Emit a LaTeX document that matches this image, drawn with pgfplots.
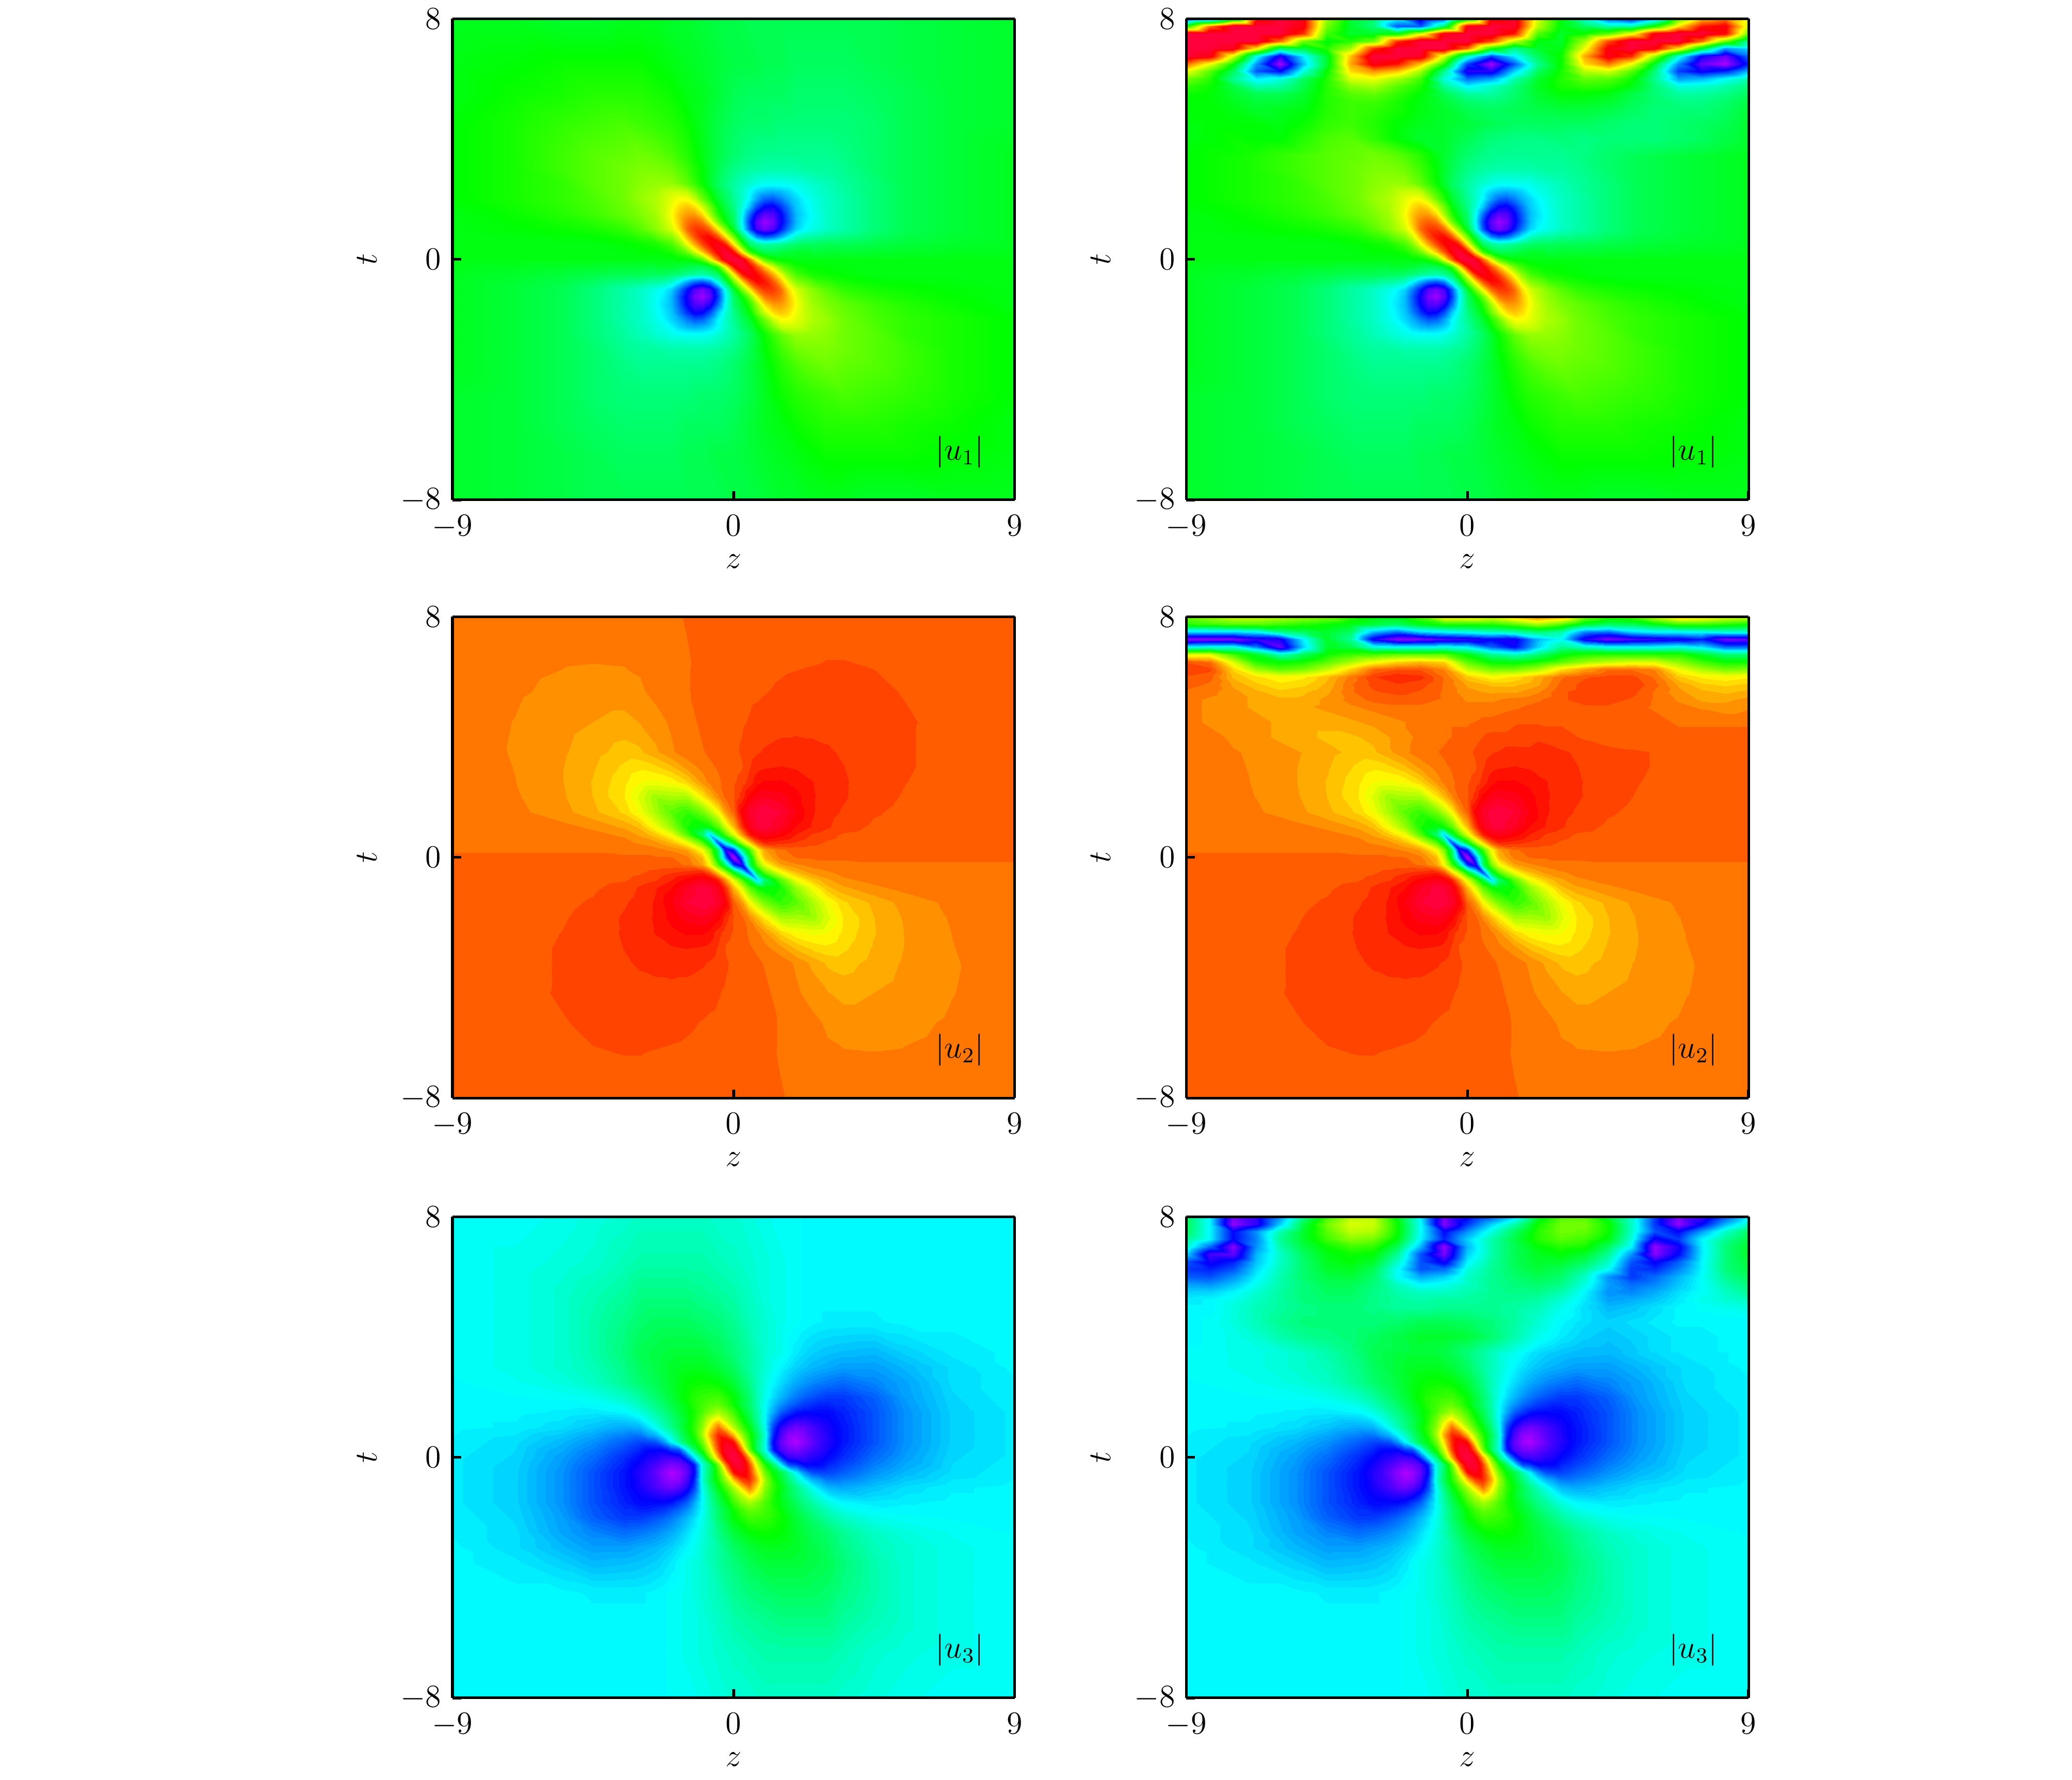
\documentclass[border=0pt,12pt]{standalone}
\usepackage{pgfplots}
\pgfplotsset{compat=1.18}
\pgfplotsset{colormap={hueB}{rgb255(0)=(170,0,255) rgb255(40)=(0,0,255) rgb255(100)=(0,255,255) rgb255(160)=(0,255,0) rgb255(220)=(255,255,0) rgb255(280)=(255,0,0) rgb255(300)=(255,0,60)}}
\pgfplotsset{colormap={hueS}{samples of colormap=(51 of hueB)}}
\pgfplotsset{colormap={hueM}{samples of colormap=(101 of hueB)}}
\newcommand\GridX[1]{\foreach \x [count=\i] in {#1}{\expandafter\xdef\csname GX\i\endcsname{\x}}}
\newcommand\BeginGrid{\gdef\Acc{}}
\newcommand\EndGrid[1]{\global\let#1\Acc}
\newcommand\R[2]{\foreach \v [count=\i] in {#2}{\xdef\Acc{\Acc(\csname GX\i\endcsname,#1,\v)}}}
\newcommand\SurfB[2]{\addplot3[surf,shader=interp,mesh/cols=#2] coordinates {#1};}
\newcommand\Surf[2]{\expandafter\SurfB\expandafter{#2}{#1}}
% ---------- u1 coarse grid
\GridX{-9,-7,-5.5,-4.5,-3.5,-3,-2.5,-2,-1.5,-1,-.5,0,.5,1,1.5,2,2.5,3,3.5,4.5,5.5,7,9}
\BeginGrid
\R{8}{51,51,50,50,51,51,51,50,50,49,48,48,47,47,47,47,47,47,47,47,48,49,50}
\R{6.5}{52,53,54,54,54,54,53,52,51,50,49,48,48,47,47,46,46,46,46,47,48,49,50}
\R{5.5}{52,54,55,56,56,56,55,54,52,51,49,47,46,46,46,45,45,45,45,46,47,49,50}
\R{4.5}{53,55,57,58,59,58,57,56,54,51,48,46,45,45,44,44,44,44,44,45,47,49,50}
\R{3.5}{53,55,58,60,61,62,61,59,56,52,48,45,43,42,42,42,42,42,43,45,47,49,51}
\EndGrid\UoneA
\BeginGrid
\R{3.5}{53,55,58,60,61,62,61,59,56,52,48,45,43,42,42,42,42,42,43,45,47,49,51}
\R{3}{53,55,58,60,62,63,63,62,58,53,47,43,41,40,40,40,41,41,42,45,47,49,51}
\R{2.5}{53,55,57,60,62,64,65,65,61,54,46,41,37,34,34,35,37,39,41,44,47,49,51}
\R{2}{53,55,57,59,62,65,67,71,73,62,50,42,33,22,23,30,35,38,40,44,47,49,51}
\R{1.5}{52,54,56,58,61,63,66,73,80,74,56,45,22,4,16,28,34,38,40,44,47,49,51}
\R{1}{52,53,54,55,57,60,64,71,84,88,76,52,26,6,18,30,35,38,40,44,47,49,51}
\R{.5}{52,52,52,52,53,54,55,59,72,88,96,74,47,40,42,45,46,47,47,48,49,50,51}
\R{0}{52,52,52,52,52,52,52,53,53,56,84,100,84,56,53,53,52,52,52,52,52,52,52}
\R{-.5}{51,50,49,48,47,47,46,45,42,40,47,74,96,88,72,59,55,54,53,52,52,52,52}
\R{-1}{51,49,47,44,40,38,35,30,18,6,26,52,76,88,84,71,64,60,57,55,54,53,52}
\R{-1.5}{51,49,47,44,40,38,34,28,16,4,22,45,56,74,80,73,66,63,61,58,56,54,52}
\R{-2}{51,49,47,44,40,38,35,30,23,22,33,42,50,62,73,71,67,65,62,59,57,55,53}
\R{-2.5}{51,49,47,44,41,39,37,35,34,34,37,41,46,54,61,65,65,64,62,60,57,55,53}
\R{-3}{51,49,47,45,42,41,41,40,40,40,41,43,47,53,58,62,63,63,62,60,58,55,53}
\R{-3.5}{51,49,47,45,43,42,42,42,42,42,43,45,48,52,56,59,61,62,61,60,58,55,53}
\R{-4.5}{50,49,47,45,44,44,44,44,44,45,45,46,48,51,54,56,57,58,59,58,57,55,53}
\R{-5.5}{50,49,47,46,45,45,45,45,46,46,46,47,49,51,52,54,55,56,56,56,55,54,52}
\R{-6.5}{50,49,48,47,46,46,46,46,47,47,48,48,49,50,51,52,53,54,54,54,54,53,52}
\R{-8}{50,49,48,47,47,47,47,47,47,47,47,48,48,49,50,50,51,51,51,50,50,51,51}
\EndGrid\UoneB
% ---------- u3 coarse grid (same columns)
\BeginGrid
\R{8}{34,34,35,36,37,38,38,38,38,38,37,37,36,35,34,34,33,33,33,33,33,33,33}
\R{6.5}{34,35,36,37,39,40,40,40,40,40,39,38,37,36,35,34,33,33,33,33,33,33,33}
\R{5.5}{34,35,37,39,41,43,43,43,43,42,41,40,38,36,35,34,33,33,33,33,33,33,33}
\R{4.5}{34,35,37,40,43,45,46,46,46,45,44,42,39,37,35,34,33,32.5,32.5,32.5,33,33,33}
\R{3.5}{34,35,37,40,44,47,48,49,49,49,47,44,41,37,35,32,30,29,28.5,28,30,32,33}
\EndGrid\UthreeA
\BeginGrid
\R{3.5}{34,35,37,40,44,47,48,49,49,49,47,44,41,37,35,32,30,29,28.5,28,30,32,33}
\R{3}{34,35,37,39,43,46,48,50,51,51,49,46,41,37,33,30,28,27,26,26,28,31,33}
\R{2.5}{33.5,34.5,36,38,42,45,47,50,53,54,53,49,43,36,31,27,24.5,23,22,24,26.5,31,32.5}
\R{2}{33,33.5,34,35,38,41,45,49,54,57,58,53,45,35,28,23,20,18,18,21,26,30.5,32.5}
\R{1.5}{33,33,32.5,32,33,36,41,46,52,59,66,58,47,34,21,15,14,14,16,20,25,30,32}
\R{1}{33,32.5,31,29,27,28,35,43,52,64,84,67,52,35,11,5,8,12,15,20,25,30,32}
\R{.5}{32.5,31,28,25,21,19,20,33,48,62,90,92,58,36,6,0,6,11,15,20,25,30,32}
\R{0}{32,30.5,26,22,17,14,11,9,18,44,80,100,80,44,18,9,11,14,17,22,26,30.5,32}
\R{-.5}{32,30,25,20,15,11,6,0,6,36,58,92,90,62,48,33,20,19,21,25,28,31,32.5}
\R{-1}{32,30,25,20,15,12,8,5,11,35,52,67,84,64,52,43,35,28,27,29,31,32.5,33}
\R{-1.5}{32,30,25,20,16,14,14,15,21,34,47,58,66,59,52,46,41,36,33,32,32.5,33,33}
\R{-2}{32.5,30.5,26,21,18,18,20,23,28,35,45,53,58,57,54,49,45,41,38,35,34,33.5,33}
\R{-2.5}{32.5,31,26.5,24,22,23,24.5,27,31,36,43,49,53,54,53,50,47,45,42,38,36,34.5,33.5}
\R{-3}{33,31,28,26,26,27,28,30,33,37,41,46,49,51,51,50,48,46,43,39,37,35,34}
\R{-3.5}{33,32,30,28,28.5,29,30,32,35,37,41,44,47,49,49,49,48,47,44,40,37,35,34}
\R{-4.5}{33,33,33,32.5,32.5,32.5,33,34,35,37,39,42,44,45,46,46,46,45,43,40,37,35,34}
\R{-5.5}{33,33,33,33,33,33,33,34,35,36,38,40,41,42,43,43,43,43,41,39,37,35,34}
\R{-6.5}{33,33,33,33,33,33,33,34,35,36,37,38,39,40,40,40,40,40,39,37,36,35,34}
\R{-8}{33,33,33,33,33,33,33,34,34,35,36,37,37,38,38,38,38,38,37,36,35,34,34}
\EndGrid\UthreeB
% ---------- fine patch over the centre of u1
\GridX{-2.5,-2.25,-2,-1.75,-1.5,-1.25,-1,-.75,-.5,-.25,0,.25,.5,.75,1,1.25,1.5,1.75,2,2.25,2.5}
\BeginGrid
\R{2.5}{65,65,65,64,61,58,54,50,46,43,41,39,37,35,34,34,34,34,35,36,37}
\R{2.25}{66,68,69,69,68,63,58,53,48,45,41,38,34,30,28,27,28,30,33,35,36}
\R{2}{67,69,71,73,73,69,62,56,50,46,42,38,33,26,21,20,23,27,30,33,35}
\R{1.75}{67,69,72,76,78,76,70,62,53,48,43,37,29,19,13,12,17,23,29,32,34}
\R{1.5}{66,69,73,78,81,81,76,66,56,50,45,35,22,11,6,7,13,21,28,31,34}
\R{1.25}{65,68,72,78,84,86,84,75,62,53,46,34,18,6,1,4,12,20,28,32,34}
\R{1}{64,67,70,76,85,89,89,85,74,62,50,36,20,8,4,7,15,23,30,33,35}
\R{.75}{60,62,64,70,79,87,92,93,87,75,62,48,36,24,20,22,27,33,38,40,41}
\R{.5}{55,57,59,64,72,80,88,93,96,90,74,58,46,42,40,41,42,44,45,46,46}
\R{.25}{53,54,55,58,62,70,78,87,95,99,92,75,58,50,47,47,48,49,50,50,50}
\R{0}{52,52,52,53,53,55,60,72,86,98,100,98,86,72,60,55,53,53,52,52,52}
\R{-.25}{50,50,50,49,48,47,47,50,58,75,92,99,95,87,78,70,62,58,55,54,53}
\R{-.5}{46,46,45,44,42,41,40,42,46,58,74,90,96,93,88,80,72,64,59,57,55}
\R{-.75}{41,40,38,33,27,22,20,24,36,48,62,75,87,93,92,87,79,70,64,62,60}
\R{-1}{35,33,30,23,15,7,4,8,20,36,50,62,74,85,89,89,85,76,70,67,64}
\R{-1.25}{34,32,28,20,12,4,1,6,18,34,46,53,62,75,84,86,84,78,72,68,65}
\R{-1.5}{34,31,28,21,13,7,6,11,22,35,45,50,56,66,76,81,81,78,73,69,66}
\R{-1.75}{34,32,29,23,17,12,13,19,29,37,43,48,53,62,70,76,78,76,72,69,67}
\R{-2}{35,33,30,27,23,20,21,26,33,38,42,46,50,56,62,69,73,73,71,69,67}
\R{-2.25}{36,35,33,30,28,27,28,30,34,38,41,45,48,53,58,63,68,69,69,68,66}
\R{-2.5}{37,36,35,34,34,34,34,35,37,39,41,43,46,50,54,58,61,64,65,65,65}
\EndGrid\UoneP
% ---------- fine patch over the centre of u3
\GridX{-3,-2.75,-2.5,-2.25,-2,-1.75,-1.5,-1.25,-1,-.75,-.5,-.25,0,.25,.5,.75,1,1.25,1.5,1.75,2,2.25,2.5,2.75,3}
\BeginGrid
\R{2}{41,43,45,47,49,52,54,56,57,58,58,56,53,49,45,40,35,31,28,25,23,21,20,19,18}
\R{1.75}{39,41,43,45,48,50,53,56,58,60,61,58,54,49,45,40,34,29,25,22,20,18,17,16,16}
\R{1.5}{36,38,41,43,46,49,52,55,59,63,66,63,58,52,47,41,34,27,21,18,15,14,14,14,14}
\R{1.25}{32,35,38,41,44,47,51,56,62,70,75,68,62,55,49,42,34,23,16,12,10,10,11,12,13}
\R{1}{28,31,35,39,43,47,52,57,64,75,84,76,67,59,52,44,35,19,11,7,5,6,8,10,12}
\R{.75}{23,26,28,33,38,44,50,56,66,80,90,88,78,66,56,47,37,17,8,3,2,4,7,9,11}
\R{.5}{19,19,20,25,33,41,48,53,62,76,90,96,92,73,58,46,36,14,6,2,0,3,6,9,11}
\R{.25}{16,14,14,14,18,20,33,46,56,70,88,98,98,85,62,46,36,16,8,5,4,6,8,10,12}
\R{0}{14,12,11,9,9,10,18,32,44,62,80,96,100,96,80,62,44,32,18,10,9,9,11,12,14}
\R{-.25}{12,10,8,6,4,5,8,16,36,46,62,85,98,98,88,70,56,46,33,20,18,14,14,14,16}
\R{-.5}{11,9,6,3,0,2,6,14,36,46,58,73,92,96,90,76,62,53,48,41,33,25,20,19,19}
\R{-.75}{11,9,7,4,2,3,8,17,37,47,56,66,78,88,90,80,66,56,50,44,38,33,28,26,23}
\R{-1}{12,10,8,6,5,7,11,19,35,44,52,59,67,76,84,75,64,57,52,47,43,39,35,31,28}
\R{-1.25}{13,12,11,10,10,12,16,23,34,42,49,55,62,68,75,70,62,56,51,47,44,41,38,35,32}
\R{-1.5}{14,14,14,14,15,18,21,27,34,41,47,52,58,63,66,63,59,55,52,49,46,43,41,38,36}
\R{-1.75}{16,16,17,18,20,22,25,29,34,40,45,49,54,58,61,60,58,56,53,50,48,45,43,41,39}
\R{-2}{18,19,20,21,23,25,28,31,35,40,45,49,53,56,58,58,57,56,54,52,49,47,45,43,41}
\EndGrid\UthreeP
% ---------- u2 grid, finer in the centre
\GridX{-9,-7,-5.5,-4.5,-3.5,-3,-2.5,-2,-1.5,-1,-.75,-.5,-.25,0,.25,.5,.75,1,1.5,2,2.5,3,3.5,4.5,5.5,7,9}
\BeginGrid
\R{8}{83.7,83.4,83.3,83.3,83.5,83.7,83.9,84.1,84.4,84.8,85,85.1,85.1,85.2,85.3,85.3,85.4,85.5,85.6,85.7,85.75,85.8,85.8,85.8,85.8,85.7,85.5}
\R{6.5}{83.5,82.9,82.5,82.4,82.5,82.7,83.5,84,84.2,84.6,84.9,85,85.2,85.3,85.4,85.6,85.7,85.8,86,86.1,86.2,86.3,86.3,86.2,86,85.8,85.5}
\R{5.5}{83.4,82.6,81.9,81.5,81.5,82,83,83.6,84.2,84.7,84.9,85,85.2,85.4,85.7,85.9,86,86.2,86.5,86.7,86.8,86.8,86.7,86.5,86.2,85.9,85.5}
\R{4.5}{83.3,82.3,81.2,80.4,79.7,80.5,81.5,82.7,83.8,84.6,84.9,85,85.2,85.6,86,86.4,86.8,87,87.4,87.6,87.6,87.5,87.3,86.8,86.4,85.9,85.5}
\R{3.5}{83.4,82.2,80.7,79.2,77.5,78,80,82,83.5,84.2,84.6,85,85.3,85.8,86.5,87.3,88,88.5,89,89,88.8,88.5,88,87.1,86.4,85.8,85.4}
\EndGrid\UtwoA
\BeginGrid
\R{3.5}{83.4,82.2,80.7,79.2,77.5,78,80,82,83.5,84.2,84.6,85,85.3,85.8,86.5,87.3,88,88.5,89,89,88.8,88.5,88,87.1,86.4,85.8,85.4}
\R{3}{83.5,82.3,80.5,78.7,76,75,76,78,81,83,84,84.5,85,85.5,86,88,89.5,90,90.3,90,89.5,89,88.3,87.2,86.4,85.8,85.4}
\R{2.5}{83.6,82.4,80.5,78.3,75,72.5,72,73,76,81,83,84,85,86,87,89,91.5,92.5,92.5,91.5,90.3,89.3,88.5,87.1,86.3,85.7,85.3}
\R{2}{83.7,82.6,80.7,78.4,74.5,70,65,66,66,74,78,82,85,86,89,93,95,96,95,93,90.5,89.3,88.5,86.9,86.1,85.5,85.2}
\R{1.5}{83.9,82.9,81.2,79,76,72,66,60,57,62,67,73,81,85,93,97,99,100,98,94,90.5,89,88,86.5,85.8,85.4,85.1}
\R{1}{84.1,83.6,83,82,80,78,72,65,55,52,54,60,70,78,88,95,98,99,96,92,90,88.5,87.1,85.9,85.4,85.2,85}
\R{.75}{84.2,84,83.7,83,82,80,77,72,60,45,30,48,60,70,80,90,94,95,93,90,88,87,86,85.5,85.2,85.1,85}
\R{.5}{84.3,84.3,84.3,84,83,82,81,78,72,60,48,20,38,52,66,76,86,90,89,88,87,86,85.5,85.2,85.1,85,85}
\R{.25}{84.2,84.2,84.2,84.2,84,84,83,82,80,72,62,45,10,18,42,58,72,80,84,85,85,85,85,84.9,84.8,84.8,84.8}
\R{0}{84.5,84.5,84.5,84.5,84.5,84.5,84.5,84.4,83,78,68,48,22,0,22,48,68,78,83,84.4,84.5,84.5,84.5,84.5,84.5,84.5,84.5}
\R{-.25}{84.8,84.8,84.8,84.9,85,85,85,85,84,80,72,58,42,18,10,45,62,72,80,82,83,84,84,84.2,84.2,84.2,84.2}
\R{-.5}{85,85,85.1,85.2,85.5,86,87,88,89,90,86,76,66,52,38,20,48,60,72,78,81,82,83,84,84.3,84.3,84.3}
\R{-.75}{85,85.1,85.2,85.5,86,87,88,90,93,95,94,90,80,70,60,48,30,45,60,72,77,80,82,83,83.7,84,84.2}
\R{-1}{85,85.2,85.4,85.9,87.1,88.5,90,92,96,99,98,95,88,78,70,60,54,52,55,65,72,78,80,82,83,83.6,84.1}
\R{-1.5}{85.1,85.4,85.8,86.5,88,89,90.5,94,98,100,99,97,93,85,81,73,67,62,57,60,66,72,76,79,81.2,82.9,83.9}
\R{-2}{85.2,85.5,86.1,86.9,88.5,89.3,90.5,93,95,96,95,93,89,86,85,82,78,74,66,66,65,70,74.5,78.4,80.7,82.6,83.7}
\R{-2.5}{85.3,85.7,86.3,87.1,88.5,89.3,90.3,91.5,92.5,92.5,91.5,89,87,86,85,84,83,81,76,73,72,72.5,75,78.3,80.5,82.4,83.6}
\R{-3}{85.4,85.8,86.4,87.2,88.3,89,89.5,90,90.3,90,89.5,88,86,85.5,85,84.5,84,83,81,78,76,75,76,78.7,80.5,82.3,83.5}
\R{-3.5}{85.4,85.8,86.4,87.1,88,88.5,88.8,89,89,88.5,88,87.3,86.5,85.8,85.3,85,84.6,84.2,83.5,82,80,78,77.5,79.2,80.7,82.2,83.4}
\R{-4.5}{85.5,85.9,86.4,86.8,87.3,87.5,87.6,87.6,87.4,87,86.8,86.4,86,85.6,85.2,85,84.9,84.6,83.8,82.7,81.5,80.5,79.7,80.4,81.2,82.3,83.3}
\R{-5.5}{85.5,85.9,86.2,86.5,86.7,86.8,86.8,86.7,86.5,86.2,86,85.9,85.7,85.4,85.2,85,84.9,84.7,84.2,83.6,83,82,81.5,81.5,81.9,82.6,83.4}
\R{-6.5}{85.5,85.8,86,86.2,86.3,86.3,86.2,86.1,86,85.8,85.7,85.6,85.4,85.3,85.2,85,84.9,84.6,84.2,84,83.5,82.7,82.5,82.4,82.5,82.9,83.5}
\R{-8}{85.5,85.7,85.8,85.8,85.8,85.8,85.75,85.7,85.6,85.5,85.4,85.3,85.3,85.2,85.1,85.1,85,84.8,84.4,84.1,83.9,83.7,83.5,83.3,83.3,83.4,83.7}
\EndGrid\UtwoB
% ---------- top strips of the right-hand panels
\GridX{-9,-8.25,-7.5,-6.75,-6,-5.25,-4.5,-3.75,-3,-2.25,-1.5,-.75,0,.75,1.5,2.25,3,3.75,4.5,5.25,6,6.75,7.5,8.25,9}
\BeginGrid
\R{8}{15,20,45,92,100,95,65,50,45,33,10,20,50,93,98,70,52,36,20,14,28,60,78,84,72}
\R{7.75}{55,85,100,100,100,95,62,50,44,20,20,45,96,100,98,68,52,46,40,40,55,76,92,95,70}
\R{7.5}{100,100,100,100,100,90,58,50,50,52,70,96,100,100,92,60,50,54,60,72,95,100,100,94,62}
\R{7.25}{100,100,100,100,85,62,52,56,62,90,100,100,100,88,68,52,50,66,88,100,100,100,85,62,40}
\R{7}{100,100,97,75,45,48,56,66,90,100,100,100,85,55,42,50,52,72,95,100,95,76,50,25,30}
\R{6.75}{100,96,70,35,10,32,50,78,100,100,98,70,38,18,32,46,54,80,96,90,65,36,12,5,22}
\R{6.5}{85,72,54,25,0,28,50,80,96,92,78,56,18,0,20,42,54,76,84,72,50,24,5,0,16}
\R{6.25}{72,60,46,20,14,36,54,76,82,78,66,42,10,10,30,46,55,68,70,60,44,18,12,16,28}
\R{6}{62,56,42,32,36,46,56,70,72,66,58,36,22,26,40,50,56,61,60,54,42,26,28,34,40}
\R{5.75}{57,54,48,40,41,48,56,64,66,60,55,42,33,38,44,51,55,57,56,52,44,36,37,40,44}
\R{5.5}{54,53,50,47,47,50,56,60,61,57,53,47,41,41,45,50,53,53,52,48,44,41,41,43,46}
\R{5.25}{53,53,51,49,49,51,56,58,58,55,52,49,45,44,46,49,51,51,50,47,45,43,43,45,48}
\R{5}{53,53,52,50,51,52,56,58,57,55,52,50,47,46,47,48,49,49,48,46,44,44,44,46,49}
\R{4.5}{52,53,53,53,52,54,57,58,56,53,51,50,49,47,46,46,46,46,45,44,44,45,46,47,50}
\R{4}{52,53,54,53,53,56,59,60,57,53,50,50,47,44,43,43,44,43,44,44,44,45,46,48,50}
\R{3.5}{53,54,54,55,57,58,60,61,62,60,56,50,45,42,42,42,42,43,45,46,47,48,49,50,51}
\EndGrid\UoneT
\BeginGrid
\R{8}{62,66,70,70,68,66,64,57,53,53,60,75,76,72,78,84,80,64,58,60,70,78,76,72,70}
\R{7.75}{56,58,60,60,58,56,54,52,49,46,52,56,56,56,60,66,60,50,46,47,52,58,58,56,54}
\R{7.5}{30,30,30,33,42,46,50,46,28,22,30,33,35,38,40,44,40,24,22,30,33,33,34,36,36}
\R{7.25}{2,3,4,10,12,33,50,42,12,3,4,8,10,14,12,28,34,12,4,8,10,12,16,5,6}
\R{7}{34,36,36,24,6,30,50,48,36,34,34,36,33,22,14,30,42,38,34,34,34,36,32,22,22}
\R{6.75}{70,70,58,50,38,46,54,57,58,60,60,60,52,42,38,44,52,55,56,56,56,56,50,44,44}
\R{6.5}{86,84,70,56,53,55,60,66,72,76,78,76,60,53,52,55,60,65,68,70,70,64,58,54,54}
\R{6.25}{88,87,76,65,60,62,68,76,84,86,86,82,68,62,62,66,75,80,84,84,82,72,66,62,63}
\R{6}{86,85,78,75,73,74,78,83,88,90,89,84,77,73,75,79,84,86,87,87,84,77,74,73,74}
\R{5.75}{85,84,80,77,75,76,79,84,87,88,87,84,80,78,78,80,85,87,88,88,85,80,77,76,77}
\R{5.5}{84,83,81,79,77,78,80,84,86,87,86,84,81,80,80,82,86,87,88,87,84,81,79,78,79}
\R{5.25}{83,82,81,80,79,79,81,83,85,85,85,84,82,82,83,84,86,87,87,86,84,82,80,80,81}
\R{5}{83,82,81,80,80,80,81,82,83,84,84,83,83,83,84,85,86,86,86,85,84,83,82,81,82}
\R{4.5}{83,82,81,81,80,79,79,80,81,82,83,84,84,85,86,86,86,86,85,85,85,84,84,84,84}
\R{4}{83,83,82,81,80,79,78,78,79,81,83,84,85,87,87,88,87,86,85,85,85,85,85,85,85}
\R{3.5}{83.4,83,82.5,82,81.2,80.3,79.2,78,78,81,83.5,84.6,85.8,88,89,88.9,88.5,87.8,87.1,86.6,86.2,85.9,85.7,85.5,85.4}
\EndGrid\UtwoT
\BeginGrid
\R{8}{46,33,5,10,25,42,58,68,68,52,33,5,13,20,30,50,60,60,50,38,18,4,8,20,33}
\R{7.75}{47,33,2,10,30,48,62,70,69,54,34,3,18,30,40,54,62,62,54,38,18,2,14,28,38}
\R{7.5}{46,33,14,25,40,50,60,68,67,54,34,14,25,36,46,56,62,61,54,38,20,14,26,38,46}
\R{7.25}{42,33,14,24,42,50,58,64,62,52,33,16,30,40,48,56,60,58,52,36,12,18,33,42,48}
\R{7}{38,22,3,25,40,48,54,58,57,47,28,2,28,40,47,53,56,55,46,33,2,12,32,44,50}
\R{6.75}{30,8,6,28,38,46,52,54,53,42,20,4,30,40,47,51,53,50,42,25,3,14,32,44,50}
\R{6.5}{20,12,16,29,38,45,51,53,50,38,20,12,33,41,47,50,50,46,38,20,13,21,33,44,49}
\R{6.25}{18,16,20,31,39,45,50,51,47,34,20,22,36,42,46,49,47,42,34,18,17,24,33,44,48}
\R{6}{21,20,25,33,40,45,48,49,45,34,27,30,38,42,45,47,45,38,25,18,22,28,34,42,46}
\R{5.75}{26,25,29,35,40,44,47,47,44,38,33,35,38,42,44,45,43,36,26,22,24,29,34,40,44}
\R{5.5}{30,30,33,37,41,44,46,46,43,40,38,38,40,42,43,43,40,33,25,24,27,31,34,38,42}
\R{5.25}{32,33,35,38,41,44,45,45,43,41,40,41,41,42,42,41,37,32,26,27,29,32,35,37,39}
\R{5}{33,33,36,39,41,43,44,44,43,41,41,42,42,42,41,39,35,31,28,29,31,33,34,35,36}
\R{4.5}{33,34,36,39,42,44,44,44,44,45,47,47,46,44,41,37,33,31,30,31,32,33,33,33,33}
\R{4}{33,34,35,37,40,42,43,44,46,48,50,50,49,45,40,35,32,30,29,30,31,32,32,33,33}
\R{3.5}{34,34,35,35,36,38,40,43,47,48,49,48,44,39,35,31,29,28,28,29,31,32,32,33,33}
\EndGrid\UthreeT
\pgfplotsset{panel/.style={
  scale only axis,width=210.9pt,height=180.5pt,anchor=south west,
  view={0}{90},xmin=-9,xmax=9,ymin=-8,ymax=8,
  xtick={-9,0,9},ytick={-8,0,8},tick pos=left,tick align=inside,
  major tick length=3.2pt,tick style={black,line width=1pt},
  axis line style={line width=0.97pt},axis on top,
  point meta min=0,point meta max=100,
  xticklabel style={yshift=-1.5pt},
  xlabel={$z$},ylabel={$t$},
  x label style={at={(axis description cs:0.5,0)},anchor=center,yshift=-23pt},
  y label style={at={(axis description cs:0,0.5)},anchor=center,yshift=32pt},
},
pone/.style={panel,colormap name=hueB},
ptwo/.style={panel,colormap name=hueS,colormap access=piecewise constant},
pthree/.style={panel,colormap name=hueM,colormap access=piecewise constant}}
\newcommand\tag[1]{\node[font=\normalsize] at (axis description cs:0.902,0.10) {$|u_{#1}|$};}
\begin{document}
\begin{tikzpicture}
\path[use as bounding box] (0,0) rectangle (777.1pt,667.4pt);
\begin{axis}[pone,at={(169.7pt,479.9pt)}]
\Surf{23}{\UoneA}\Surf{23}{\UoneB}\Surf{21}{\UoneP}\tag{1}
\end{axis}
\begin{axis}[pone,at={(444.9pt,479.9pt)}]
\Surf{25}{\UoneT}\Surf{23}{\UoneB}\Surf{21}{\UoneP}\tag{1}
\end{axis}
\begin{axis}[ptwo,at={(169.7pt,255.6pt)}]
\Surf{27}{\UtwoA}\Surf{27}{\UtwoB}\tag{2}
\end{axis}
\begin{axis}[ptwo,at={(444.9pt,255.6pt)}]
\Surf{25}{\UtwoT}\Surf{27}{\UtwoB}\tag{2}
\end{axis}
\begin{axis}[pthree,at={(169.7pt,30.6pt)}]
\Surf{23}{\UthreeA}\Surf{23}{\UthreeB}\Surf{25}{\UthreeP}\tag{3}
\end{axis}
\begin{axis}[pthree,at={(444.9pt,30.6pt)}]
\Surf{25}{\UthreeT}\Surf{23}{\UthreeB}\Surf{25}{\UthreeP}\tag{3}
\end{axis}
\end{tikzpicture}
\end{document}
